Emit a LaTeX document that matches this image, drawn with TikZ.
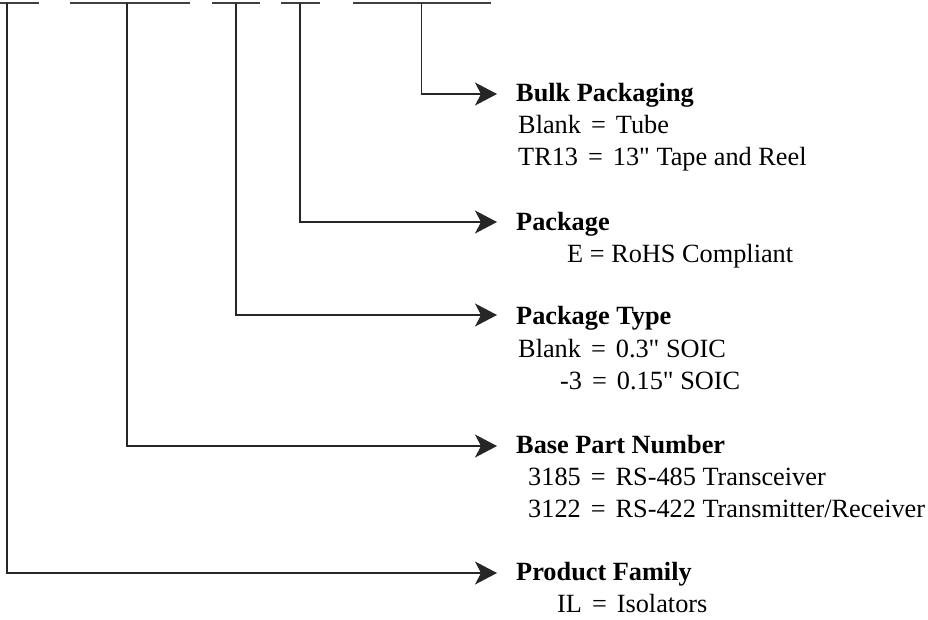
\documentclass[tikz,border=0pt]{standalone}
\usepackage{fontspec}
\setmainfont{Liberation Serif}[Ligatures=TeXOff]
\usetikzlibrary{arrows.meta}
\newcommand\eqs{\hspace{0.38em}=\hspace{0.38em}}
\begin{document}
\begin{tikzpicture}[x=1pt,y=-1pt,
  ln/.style={line width=1.4pt, draw=black!85},
  conn/.style={ln, -{Stealth[length=22pt,width=23pt,inset=6pt]}},
  ttl/.style={anchor=base west, inner sep=0pt, font=\fontsize{26.3}{31}\selectfont\bfseries},
  val/.style={anchor=base west, inner sep=0pt, font=\fontsize{26.3}{31}\selectfont},
  bar/.style={line width=1.6pt, draw=black!75}]
\useasboundingbox (0,0) rectangle (928,619);
% top bars
\coordinate (b1l) at (0,3);   \coordinate (b1r) at (39,3);
\coordinate (b2l) at (70,3);  \coordinate (b2r) at (190,3);
\coordinate (b3l) at (212,3); \coordinate (b3r) at (260,3);
\coordinate (b4l) at (281,3); \coordinate (b4r) at (320,3);
\coordinate (b5l) at (353,3); \coordinate (b5r) at (491,3);
\draw[bar] (b1l) -- (b1r);
\draw[bar] (b2l) -- (b2r);
\draw[bar] (b3l) -- (b3r);
\draw[bar] (b4l) -- (b4r);
\draw[bar] (b5l) -- (b5r);
% vertical start points
\coordinate (v1) at (7,3);
\coordinate (v2) at (127,3);
\coordinate (v3) at (236,3);
\coordinate (v4) at (300,3);
\coordinate (v5) at (421.5,3);
% arrow tips
\coordinate (a5) at (497,94);
\coordinate (a4) at (497,222);
\coordinate (a3) at (497,315);
\coordinate (a2) at (497,446);
\coordinate (a1) at (497,573);
% titles
\node[ttl] (t5) at (516,101) {Bulk Packaging};
\node[ttl] (t4) at (516,230) {Package};
\node[ttl] (t3) at (516,324) {Package Type};
\node[ttl] (t2) at (516,453) {Base Part Number};
\node[ttl] (t1) at (516,580) {Product Family};
% values
\node[val] (t5a) at (518,133) {Blank\eqs Tube};
\node[val] (t5b) at (518,165) {TR13\eqs 13" Tape and Reel};
\node[val] (t4a) at (567,262) {E = RoHS Compliant};
\node[val] (t3a) at (518,357) {Blank\eqs 0.3" SOIC};
\node[val] (t3b) at (560,389) {-3\eqs 0.15" SOIC};
\node[val] (t2a) at (528,485) {3185\eqs RS-485 Transceiver};
\node[val] (t2b) at (528,517) {3122\eqs RS-422 Transmitter/Receiver};
\node[val] (t1a) at (557,612) {IL\eqs Isolators};
% connectors
\draw[conn] (v5) |- (a5);
\draw[conn] (v4) |- (a4);
\draw[conn] (v3) |- (a3);
\draw[conn] (v2) |- (a2);
\draw[conn] (v1) |- (a1);
\end{tikzpicture}
\end{document}
